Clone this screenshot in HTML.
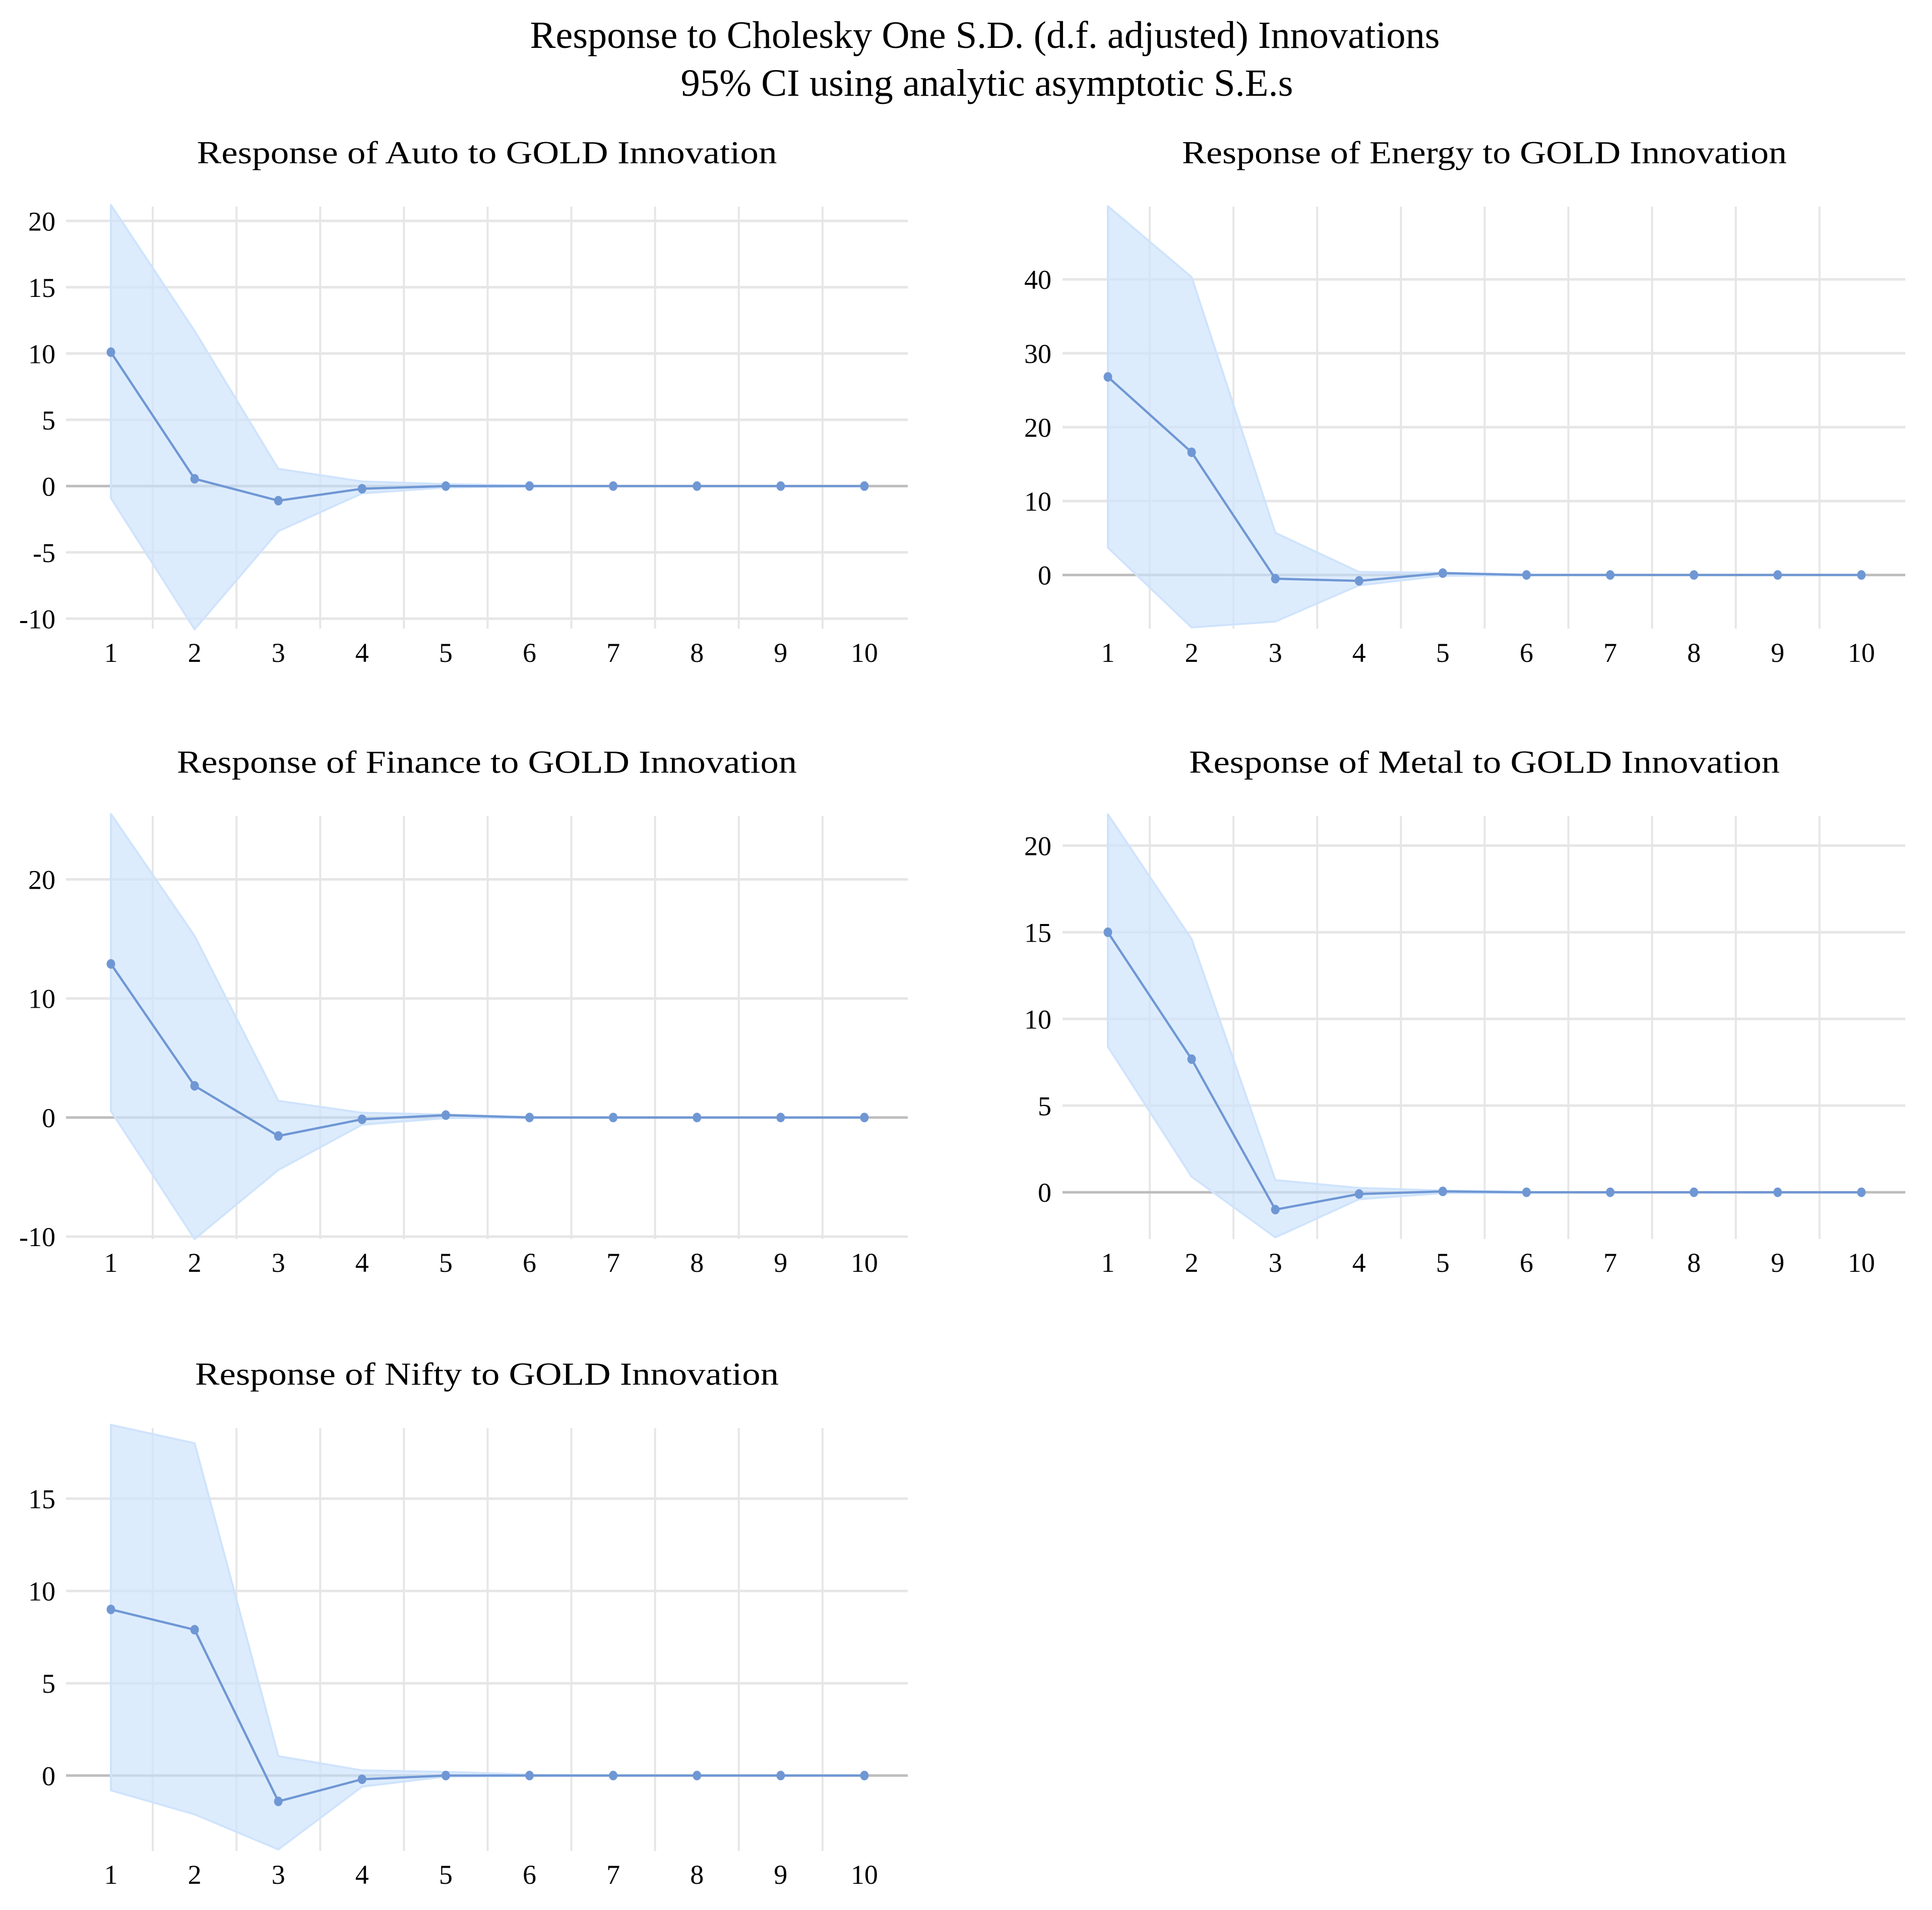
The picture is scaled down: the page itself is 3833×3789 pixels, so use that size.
<!DOCTYPE html>
<html><head><meta charset="utf-8"><style>
html,body{margin:0;padding:0;background:#fff;}
svg{display:block;}
text{font-family:"Liberation Serif","Times New Roman",serif;fill:#000;}
</style></head><body>
<svg id="chart" width="3833" height="3789" viewBox="0 0 3833 3789" xmlns="http://www.w3.org/2000/svg">
<text x="1954" y="95" font-size="76" text-anchor="middle" textLength="1805" lengthAdjust="spacingAndGlyphs">Response to Cholesky One S.D. (d.f. adjusted) Innovations</text>
<text x="1958" y="190" font-size="76" text-anchor="middle" textLength="1215" lengthAdjust="spacingAndGlyphs">95% CI using analytic asymptotic S.E.s</text>
</svg>
<script>
const periods = [1,2,3,4,5,6,7,8,9,10];
const autoVals = [10.1,0.55,-1.1,-0.2,0,0,0,0,0,0];
const autoUpper = [21.2,11.7,1.3,0.35,0.15,0.05,0,0,0,0];
const autoLower = [-0.9,-10.8,-3.4,-0.55,-0.1,-0.03,0,0,0,0];
const energyVals = [26.8,16.6,-0.5,-0.8,0.25,0,0,0,0,0];
const energyUpper = [49.9,40.3,5.7,0.4,0.3,0.05,0,0,0,0];
const energyLower = [3.7,-7.1,-6.3,-1.4,-0.1,-0.05,0,0,0,0];
const financeVals = [12.9,2.66,-1.55,-0.15,0.2,0,0,0,0,0];
const financeUpper = [25.5,15.25,1.4,0.4,0.25,0.05,0,0,0,0];
const financeLower = [0.55,-10.2,-4.4,-0.6,-0.05,-0.02,0,0,0,0];
const metalVals = [15.0,7.68,-1.0,-0.1,0.05,0,0,0,0,0];
const metalUpper = [21.8,14.6,0.7,0.25,0.1,0.02,0,0,0,0];
const metalLower = [8.4,0.9,-2.6,-0.4,-0.05,-0.02,0,0,0,0];
const niftyVals = [9.0,7.9,-1.4,-0.2,0,0,0,0,0,0];
const niftyUpper = [19.0,18.0,1.05,0.28,0.2,0.05,0,0,0,0];
const niftyLower = [-0.8,-2.1,-4.0,-0.6,-0.05,-0.02,0,0,0,0];
const autoTicks = [20,15,10,5,0,-5,-10];
const energyTicks = [40,30,20,10,0];
const financeTicks = [20,10,0,-10];
const metalTicks = [20,15,10,5,0];
const niftyTicks = [15,10,5,0];

const NS = "http://www.w3.org/2000/svg";
const svg = document.getElementById('chart');
function mk(tag, attrs, parent){
  const e = document.createElementNS(NS, tag);
  for (const k in attrs) e.setAttribute(k, attrs[k]);
  (parent||svg).appendChild(e);
  return e;
}
const panels = [
  {key:'auto', title:'Response of Auto to GOLD Innovation', vals:autoVals, up:autoUpper, lo:autoLower, ticks:autoTicks,
   x0:220, dx:166.1, gl:131, gr:1801, zeroY:964.3, unit:26.3, top:410, bot:1247, labR:110, titleX:966, titleY:324, titleW:1151, tickY:1313},
  {key:'energy', title:'Response of Energy to GOLD Innovation', vals:energyVals, up:energyUpper, lo:energyLower, ticks:energyTicks,
   x0:2198, dx:166.1, gl:2108, gr:3780, zeroY:1140.6, unit:14.66, top:410, bot:1247, labR:2086, titleX:2945, titleY:324, titleW:1200, tickY:1313},
  {key:'finance', title:'Response of Finance to GOLD Innovation', vals:financeVals, up:financeUpper, lo:financeLower, ticks:financeTicks,
   x0:220, dx:166.1, gl:131, gr:1801, zeroY:2216.9, unit:23.62, top:1619, bot:2458, labR:110, titleX:966, titleY:1533, titleW:1230, tickY:2523},
  {key:'metal', title:'Response of Metal to GOLD Innovation', vals:metalVals, up:metalUpper, lo:metalLower, ticks:metalTicks,
   x0:2198, dx:166.1, gl:2108, gr:3780, zeroY:2365.2, unit:34.39, top:1619, bot:2458, labR:2086, titleX:2945, titleY:1533, titleW:1172, tickY:2523},
  {key:'nifty', title:'Response of Nifty to GOLD Innovation', vals:niftyVals, up:niftyUpper, lo:niftyLower, ticks:niftyTicks,
   x0:220, dx:166.1, gl:131, gr:1801, zeroY:3522.3, unit:36.62, top:2833, bot:3672, labR:110, titleX:966, titleY:2747, titleW:1158, tickY:3737}
];
panels.forEach(p => {
  const g = mk('g', {});
  
  
  const X = i => p.x0 + (i - 1) * p.dx;
  const Y = v => p.zeroY - v * p.unit;
  const t = mk('text', {x:p.titleX, y:p.titleY, 'font-size':64, 'text-anchor':'middle', textLength:p.titleW, lengthAdjust:'spacingAndGlyphs'}, g);
  t.textContent = p.title;
  
  
  for (let k = 1; k < periods.length; k++) {
    const xv = X(periods[k-1] + 0.5);
    const vl = mk('line', {x1:xv, x2:xv, y1:p.top, y2:p.bot, stroke:'#e6e6e6', 'stroke-width':4}, g);
    
    
  }
  p.ticks.forEach(v => {
    const y = Y(v);
    const hl = mk('line', {x1:p.gl, x2:p.gr, y1:y, y2:y, stroke: v === 0 ? '#bdbdbd' : '#e6e6e6', 'stroke-width':5}, g);
    
    
    const tl = mk('text', {x:p.labR, y:y + 19, 'font-size':54, 'text-anchor':'end'}, g);
    tl.textContent = String(v);
    
    
  });
  let d = '';
  periods.forEach((per, i) => { d += (i ? 'L' : 'M') + X(per) + ' ' + Y(p.up[i]) + ' '; });
  for (let i = periods.length - 1; i >= 0; i--) d += 'L' + X(periods[i]) + ' ' + Y(p.lo[i]) + ' ';
  d += 'Z';
  const band = mk('path', {d:d, fill:'#cfe4fc', 'fill-opacity':0.7, stroke:'#cfe3fc', 'stroke-width':4, 'stroke-linejoin':'round'}, g);
  
  
  const pts = periods.map((per, i) => X(per) + ',' + Y(p.vals[i])).join(' ');
  const line = mk('polyline', {points:pts, fill:'none', stroke:'#6f97d4', 'stroke-width':4.5, 'stroke-linejoin':'round'}, g);
  
  
  periods.forEach((per, i) => {
    const c = mk('ellipse', {cx:X(per), cy:Y(p.vals[i]), rx:8.5, ry:9.5, fill:'#6f97d4'}, g);
    
    
    const xl = mk('text', {x:X(per), y:p.tickY, 'font-size':54, 'text-anchor':'middle'}, g);
    xl.textContent = String(per);
    
    
  });
});
</script>
</body></html>
